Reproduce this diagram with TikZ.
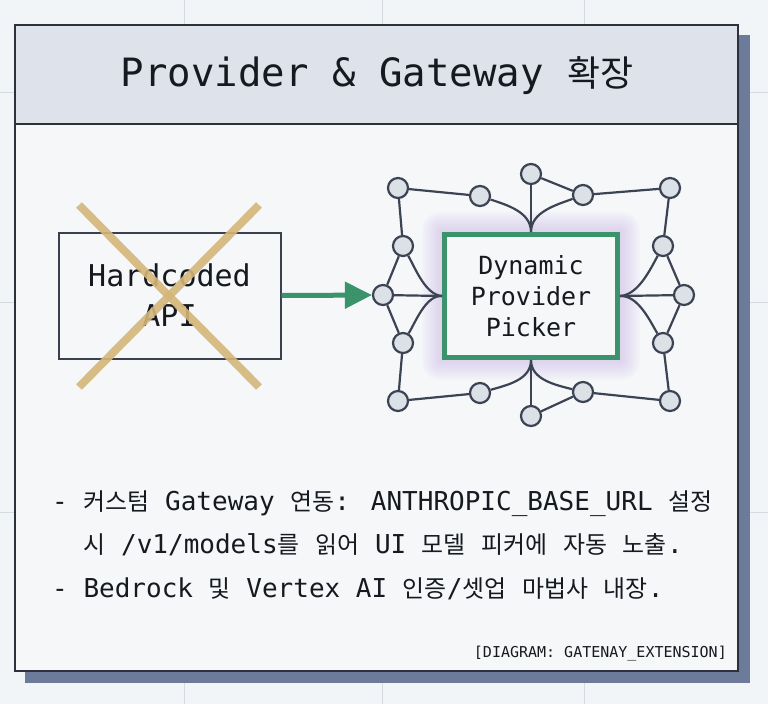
\documentclass[tikz,border=0pt]{standalone}
\usepackage{fontspec}
\setmainfont{DejaVu Sans Mono}
\newfontfamily\kor[Scale=0.92]{Noto Sans CJK KR}
\newcommand{\ko}[1]{{\kor #1}}
\usetikzlibrary{arrows.meta}
\definecolor{bgc}{HTML}{F2F5F7}
\definecolor{gridc}{HTML}{D6DBE1}
\definecolor{shadowc}{HTML}{6C7B9A}
\definecolor{framec}{HTML}{2C313C}
\definecolor{panelc}{HTML}{F5F7F9}
\definecolor{titlec}{HTML}{DEE2EA}
\definecolor{inkc}{HTML}{16191F}
\definecolor{edgec}{HTML}{3C4454}
\definecolor{nodefill}{HTML}{DCE0E7}
\definecolor{greenc}{HTML}{3A936A}
\definecolor{tanc}{HTML}{D5B679}
\definecolor{glowc}{HTML}{C2A8EC}
\definecolor{boxc}{HTML}{3A404D}
\tikzset{
  nd/.style={circle, minimum size=20pt, inner sep=0pt, fill=nodefill, draw=edgec, line width=2.2pt},
  ed/.style={draw=edgec, line width=2.2pt},
  hardbox/.style={rectangle, draw=boxc, line width=2pt, minimum width=222pt, minimum height=126pt,
    align=center, text=inkc, font=\fontsize{30}{40}\selectfont},
  pickerbox/.style={rectangle, draw=greenc, line width=5pt, fill=panelc, minimum width=173pt, minimum height=123pt,
    align=center, text=inkc, font=\fontsize{25}{31}\selectfont},
  bullet/.style={anchor=base west, text=inkc, inner sep=0pt, font=\fontsize{26}{30}\selectfont},
  arrowline/.style={draw=greenc, line width=5pt, -{Triangle[length=27pt,width=26pt]}},
  crossline/.style={draw=tanc, line width=8pt, opacity=0.9}
}
\begin{document}
\begin{tikzpicture}[x=1pt,y=-1pt]
\useasboundingbox (0,0) rectangle (768,704);
\fill[bgc] (0,0) rectangle (768,704);
% background grid
\foreach \yy in {92,302,512} \draw[gridc, line width=1pt] (0,\yy) -- (768,\yy);
\foreach \xx in {184,382,584} \draw[gridc, line width=1pt] (\xx,0) -- (\xx,704);
% panel shadow and frame
\fill[shadowc] (25,35) rectangle (750,683);
\fill[panelc] (15,25) rectangle (738,671);
\fill[titlec] (15,25) rectangle (738,124);
\draw[framec, line width=2.5pt] (15,124) -- (738,124);
\draw[framec, line width=2.8pt] (15,25) rectangle (738,671);
% title
\node[text=inkc, font=\fontsize{39}{45}\selectfont] (title) at (377,76) {Provider \& Gateway \ko{확장}};
% glow behind picker
\foreach \i in {1,...,11} {
  \fill[glowc, opacity=0.045, rounded corners=\i*1.6pt] (442-\i*1.8,232-\i*1.8) rectangle (620+\i*1.8,360+\i*1.8);
}
% boxes
\node[hardbox] (hard) at (169.5,295.5) {Hardcoded\\API};
\node[pickerbox] (picker) at (531,296) {Dynamic\\Provider\\Picker};
% cross
\draw[crossline] (79,205) -- (259,387);
\draw[crossline] (259,205) -- (79,387);
% network nodes
\node[nd] (tl) at (398,188) {};
\node[nd] (t1) at (480,196) {};
\node[nd] (top) at (531,174) {};
\node[nd] (t2) at (583,195) {};
\node[nd] (tr) at (670,188) {};
\node[nd] (l1) at (403,246) {};
\node[nd] (lmid) at (383,295) {};
\node[nd] (l2) at (403,343) {};
\node[nd] (r1) at (663,246) {};
\node[nd] (rmid) at (684,295) {};
\node[nd] (r2) at (663,343) {};
\node[nd] (bl) at (398,401) {};
\node[nd] (b1) at (480,393) {};
\node[nd] (bottom) at (531,416) {};
\node[nd] (b2) at (583,392) {};
\node[nd] (br) at (670,401) {};
% straight edges
\draw[ed] (tl) -- (t1);
\draw[ed] (tl) -- (l1);
\draw[ed] (top) -- (t2);
\draw[ed] (t2) -- (tr);
\draw[ed] (tr) -- (r1);
\draw[ed] (l1) -- (lmid);
\draw[ed] (lmid) -- (l2);
\draw[ed] (l2) -- (bl);
\draw[ed] (r1) -- (rmid);
\draw[ed] (rmid) -- (r2);
\draw[ed] (r2) -- (br);
\draw[ed] (bl) -- (b1);
\draw[ed] (bottom) -- (b2);
\draw[ed] (b2) -- (br);
\draw[ed] (top) -- (picker.north);
\draw[ed] (lmid) -- (picker.west);
\draw[ed] (rmid) -- (picker.east);
\draw[ed] (bottom) -- (picker.south);
% curved edges
\draw[ed] (t1) .. controls (507,205) and (531,212) .. (picker.north);
\draw[ed] (t2) .. controls (556,205) and (531,212) .. (picker.north);
\draw[ed] (b1) .. controls (507,385) and (531,380) .. (picker.south);
\draw[ed] (b2) .. controls (556,385) and (531,380) .. (picker.south);
\draw[ed] (l1) .. controls (416,270) and (426,295) .. (picker.west);
\draw[ed] (l2) .. controls (416,321) and (426,295) .. (picker.west);
\draw[ed] (r1) .. controls (650,270) and (638,295) .. (picker.east);
\draw[ed] (r2) .. controls (650,321) and (638,295) .. (picker.east);
% arrow
\draw[arrowline] (hard.east) -- (lmid);
% bullet text
\node[bullet] (line1) at (52,510) {- \ko{커스텀} Gateway \ko{연동}: ANTHROPIC\_BASE\_URL \ko{설정}};
\node[bullet] (line2) at (52,553) {\phantom{- }\ko{시} /v1/models\ko{를} \ko{읽어} UI \ko{모델} \ko{피커에} \ko{자동} \ko{노출}.};
\node[bullet] (line3) at (52,597) {- Bedrock \ko{및} Vertex AI \ko{인증}/\ko{셋업} \ko{마법사} \ko{내장}.};
% small label
\node[anchor=base east, text=inkc, inner sep=0pt, font=\fontsize{15}{18}\selectfont] (label) at (727,657) {[DIAGRAM: GATENAY\_EXTENSION]};
\end{tikzpicture}
\end{document}
